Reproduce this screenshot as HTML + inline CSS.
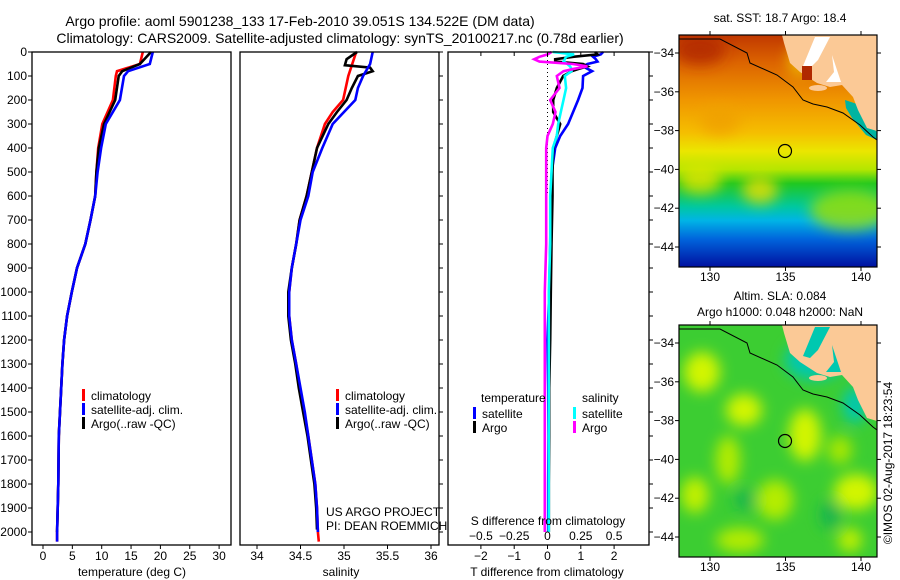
<!DOCTYPE html>
<html><head><meta charset="utf-8"><style>
body{margin:0;background:#fff;}
svg{display:block;font-family:"Liberation Sans",sans-serif;}
text{fill:#000;}
</style></head><body>
<svg id="fig" width="900" height="580" viewBox="0 0 900 580" xmlns="http://www.w3.org/2000/svg">
<defs>
<linearGradient id="sstg" x1="0" y1="0" x2="0" y2="1">
<stop offset="0" stop-color="#c03800"/><stop offset="0.12" stop-color="#dc6400"/>
<stop offset="0.28" stop-color="#f09600"/><stop offset="0.42" stop-color="#f5be00"/>
<stop offset="0.5" stop-color="#ebe600"/><stop offset="0.58" stop-color="#b4e600"/>
<stop offset="0.64" stop-color="#20c820"/><stop offset="0.74" stop-color="#00c8a0"/>
<stop offset="0.8" stop-color="#00b4e6"/><stop offset="0.88" stop-color="#0064dc"/>
<stop offset="1" stop-color="#0010a0"/></linearGradient>
<filter id="blur"><feGaussianBlur stdDeviation="7"/></filter>
<clipPath id="c1"><rect x="679" y="35" width="198" height="232"/></clipPath>
<clipPath id="c2"><rect x="679" y="325" width="198" height="232"/></clipPath>
</defs>
<g font-size="14" text-anchor="middle">
<text x="300" y="26">Argo profile: aoml 5901238_133 17-Feb-2010 39.051S 134.522E (DM data)</text>
<text x="340" y="43">Climatology: CARS2009. Satellite-adjusted climatology: synTS_20100217.nc (0.78d earlier)</text>
</g>
<g id="p1"></g>
<g id="p2"></g>
<g id="p3"></g>

<g>
<text x="780" y="22" font-size="12" text-anchor="middle">sat. SST: 18.7 Argo: 18.4</text>
<g clip-path="url(#c1)">
<rect x="679" y="35" width="198" height="232" fill="url(#sstg)"/>
<g filter="url(#blur)" opacity="0.8">
<ellipse cx="700" cy="180" rx="22" ry="14" fill="#e6e600"/>
<ellipse cx="760" cy="190" rx="18" ry="14" fill="#f0e000"/>
<ellipse cx="850" cy="210" rx="40" ry="20" fill="#a0e000"/>
<ellipse cx="720" cy="120" rx="20" ry="15" fill="#f0a000"/>
<ellipse cx="700" cy="50" rx="25" ry="15" fill="#b02800"/>
<ellipse cx="800" cy="60" rx="12" ry="16" fill="#f0c800"/>
</g>
<polygon fill="#00b4a0" points="845,100 860,105 870,125 877,132 877,140 866,135 852,118 846,108"/>
<path fill="#fbc996" d="M782,35 L784,43 L790,63 L800,72 L817,83 L830,87 L842,85 L853,97 L858,110 L867,128 L877,131 L877,35 Z"/>
<path fill="#fff" d="M815,37 L830,37 L818,60 L810,68 L803,66 Z M832,55 L841,82 L826,82 L834,72 Z"/>
<ellipse cx="818" cy="88" rx="9" ry="3" fill="#fbc996"/>
<rect x="802" y="66" width="10" height="14" fill="#b02800"/>
<polyline fill="none" stroke="#000" stroke-width="1" points="679,39 720,39 747,53 750,63 777,75 793,87 803,100 813,104 827,107 843,113 860,125 873,137 877,140"/>
</g>
<rect x="679" y="35" width="198" height="232" fill="none" stroke="#000" stroke-width="1.2"/>
<circle cx="785" cy="151" r="6.5" fill="none" stroke="#000" stroke-width="1.2"/>
</g>

<g>
<text x="780" y="300" font-size="12" text-anchor="middle">Altim. SLA: 0.084</text>
<text x="780" y="316" font-size="12" text-anchor="middle">Argo h1000: 0.048 h2000: NaN</text>
<g clip-path="url(#c2)">
<rect x="679" y="325" width="198" height="232" fill="#3ccd32"/>
<g filter="url(#blur)">
<ellipse cx="702" cy="372" rx="18" ry="20" fill="#d2f500"/>
<ellipse cx="744" cy="410" rx="18" ry="16" fill="#d2f500"/>
<ellipse cx="805" cy="435" rx="16" ry="26" fill="#d2f500"/>
<ellipse cx="856" cy="492" rx="22" ry="18" fill="#d2f500"/>
<ellipse cx="695" cy="495" rx="14" ry="18" fill="#c0f000"/>
<ellipse cx="728" cy="460" rx="12" ry="24" fill="#b4ec00"/>
<ellipse cx="775" cy="500" rx="18" ry="20" fill="#b4ec00"/>
<ellipse cx="850" cy="540" rx="12" ry="12" fill="#c0f000"/>
<ellipse cx="740" cy="540" rx="24" ry="12" fill="#b4ec00"/>
<ellipse cx="840" cy="450" rx="12" ry="14" fill="#a8e800"/>
<ellipse cx="745" cy="500" rx="10" ry="10" fill="#14b450"/>
<ellipse cx="830" cy="515" rx="10" ry="14" fill="#14b450"/>
<ellipse cx="815" cy="360" rx="30" ry="20" fill="#00c8b0"/>
<ellipse cx="855" cy="405" rx="12" ry="18" fill="#00c8b0"/>
</g>
<path fill="#fbc996" d="M782,325 L784,333 L790,353 L800,362 L817,373 L830,377 L842,375 L853,387 L858,400 L867,418 L877,421 L877,325 Z"/>
<path fill="#00c8b0" d="M815,327 L830,327 L818,350 L810,358 L803,356 Z M832,345 L841,372 L826,372 L834,362 Z"/>
<ellipse cx="818" cy="378" rx="9" ry="3" fill="#fbc996"/>
<polyline fill="none" stroke="#000" stroke-width="1" points="679,329 720,329 747,343 750,353 777,365 793,377 803,390 813,394 827,397 843,403 860,415 873,427 877,430"/>
</g>
<rect x="679" y="325" width="198" height="232" fill="none" stroke="#000" stroke-width="1.2"/>
<circle cx="785" cy="441" r="6.5" fill="none" stroke="#000" stroke-width="1.2"/>
<text transform="translate(892,463) rotate(-90)" font-size="12" text-anchor="middle">©IMOS 02-Aug-2017 18:23:54</text>
</g>
<g id="mapaxes"></g>
</svg>
<script>
// ---- data ----
const depthT = [0,50,80,100,200,300,400,500,600,700,800,900,1000,1100,1200,1300,1400,1600,1800,2000,2040];
const tempClim = [17.0,16.5,12.6,12.4,11.9,10.1,9.4,9.1,8.9,8.1,7.2,5.8,4.9,4.1,3.6,3.3,3.1,2.7,2.6,2.4,2.4];
const tempSat  = [18.7,18.2,14.5,13.8,13.1,10.7,9.9,9.3,8.9,8.1,7.2,5.8,4.9,4.1,3.6,3.3,3.1,2.7,2.6,2.4,2.4];
const tempArgo = [18.4,16.5,13.5,12.9,12.3,10.4,9.5,9.1,8.9,8.1,7.2,5.8,4.9,4.1,3.6,3.3,3.1,2.7,2.6,2.4,2.4];
const depthSc = [0,100,200,250,300,400,500,600,700,800,900,1000,1100,1200,1300,1400,1500,1600,1700,1800,1900,2000,2040];
const salClim = [35.14,35.05,34.99,34.87,34.78,34.69,34.63,34.57,34.49,34.45,34.40,34.37,34.37,34.40,34.45,34.49,34.54,34.59,34.63,34.67,34.69,34.70,34.71];
const depthSs = [0,50,100,150,200,300,400,500,600,700,800,900,1000,1100,1200,1300,1400,1500,1600,1700,1800,1900,2000];
const salSat  = [35.33,35.30,35.22,35.16,35.13,34.87,34.75,34.64,34.59,34.50,34.45,34.40,34.37,34.37,34.40,34.45,34.50,34.55,34.59,34.63,34.67,34.69,34.70];
const depthSa = [0,30,55,65,80,100,150,200,250,300,400,500,600,700,800,900,1000,1100,1200,1300,1400,1500,1600,1700,1800,1900,1990];
const salArgo = [35.15,35.03,35.01,35.30,35.33,35.16,35.09,35.03,34.92,34.82,34.69,34.63,34.57,34.49,34.45,34.40,34.36,34.36,34.39,34.44,34.48,34.53,34.58,34.62,34.66,34.68,34.69];
const depthD = [0,10,20,30,40,50,60,70,80,100,150,200,250,300,350,400,500,600,800,1000,1200,1400,1600,1800,2000];
const dTsat  = [1.67,1.6,1.37,1.45,1.5,1.2,1.07,1.2,1.34,1.07,1.05,0.92,0.77,0.62,0.38,0.23,0.13,0.1,0.08,0.05,0.0,0.02,0.03,0.02,0.02];
const dTargo = [1.43,1.5,0.77,0.23,0.23,1.07,1.2,0.95,0.73,0.47,0.28,0.17,0.17,0.38,0.28,0.17,0.15,0.15,0.12,0.1,0.08,0.05,0.05,0.04,0.04];
const dSsat  = [0.04,0.2,0.14,0.13,0.12,0.15,0.17,0.18,0.18,0.13,0.14,0.12,0.1,0.08,0.07,0.04,0.03,0.02,0.02,0.01,0.01,0.01,0.01,0.01,0.01];
const dSargo = [0.03,0.0,-0.06,-0.1,-0.06,0.19,0.3,0.2,0.12,0.07,0.09,0.02,0.06,0.04,0.0,-0.01,-0.01,-0.01,-0.01,-0.02,-0.02,-0.02,-0.02,-0.02,-0.02];
const depthTicks = [0,100,200,300,400,500,600,700,800,900,1000,1100,1200,1300,1400,1500,1600,1700,1800,1900,2000];
const tTicks = [0,5,10,15,20,25,30];
const sTicks = [34,34.5,35,35.5,36];
const sTickLabels = ["34","34.5","35","35.5","36"];
const dTTicks = [-2,-1,0,1,2];
const dSTicks = [-0.5,-0.25,0,0.25,0.5];
const dSTickLabels = ["\u22120.5","\u22120.25","0","0.25","0.5"];
const lonTicks = [130,135,140];
const latTicks = [-34,-36,-38,-40,-42,-44];

const NS="http://www.w3.org/2000/svg";
function mk(parent,tag,attrs,txt){const e=document.createElementNS(NS,tag);for(const k in attrs)e.setAttribute(k,attrs[k]);if(txt!==undefined)e.textContent=txt;parent.appendChild(e);return e;}
const yD = d => 52 + 0.24*d;
const xT = t => 43 + 5.87*t;
const xS = s => 257 + 87*(s-34);
const xdT = v => 547.5 + 33.3*v;
const xdS = v => 547.5 + 133.2*v;
const TOP=52, BOT=545;

function frame(g,x0,x1){mk(g,'rect',{x:x0,y:TOP,width:x1-x0,height:BOT-TOP,fill:'none',stroke:'#000','stroke-width':1.3});}
function line(g,xs,ds,fx,color,name){
  const pts=xs.map((v,i)=>fx(v).toFixed(1)+','+yD(ds[i]).toFixed(1)).join(' ');
  const p=mk(g,'polyline',{points:pts,fill:'none',stroke:color,'stroke-width':2.6,'stroke-linejoin':'miter'});
  
  
}
function depthAxis(g,x,left,labels){
  depthTicks.forEach(d=>{
    mk(g,'line',{x1:x,x2:left?x-4:x+4,y1:yD(d),y2:yD(d),stroke:'#000'});
    if(labels){const t=mk(g,'text',{x:x-5,y:yD(d)+4,'font-size':12,'text-anchor':'end'},String(d));
      }
  });
}
function xAxis(g,ticks,labels,fx,y,title,cx){
  ticks.forEach((v,i)=>{mk(g,'line',{x1:fx(v),x2:fx(v),y1:BOT,y2:BOT+4,stroke:'#000'});
    const t=mk(g,'text',{x:fx(v),y:y,'font-size':12,'text-anchor':'middle'},labels[i]);
    });
  const tt=mk(g,'text',{x:cx,y:576,'font-size':12,'text-anchor':'middle'},title);
  
}
function legend(g,x,y,items){
  items.forEach((it,i)=>{
    mk(g,'rect',{x:x,y:y+i*14-9,width:3,height:12,fill:it[0]});
    const t=mk(g,'text',{x:x+9,y:y+i*14+2,'font-size':12},it[1]);
    
  });
}
// panel 1
const p1=document.getElementById('p1');
line(p1,tempClim,depthT,xT,'#f00','temp-climatology-line');
line(p1,tempArgo,depthT.slice(0,20),xT,'#000','temp-argo-line');
line(p1,tempSat,depthT,xT,'#00f','temp-satellite-line');
frame(p1,32,231);
depthAxis(p1,32,true,true);
xAxis(p1,tTicks,tTicks.map(String),xT,560,'temperature (deg C)',132);
legend(p1,82,398,[['#f00','climatology'],['#00f','satellite-adj. clim.'],['#000','Argo(..raw -QC)']]);
// panel 2
const p2=document.getElementById('p2');
line(p2,salClim,depthSc,xS,'#f00','sal-climatology-line');
line(p2,salArgo,depthSa,xS,'#000','sal-argo-line');
line(p2,salSat,depthSs,xS,'#00f','sal-satellite-line');
frame(p2,240,439);
depthAxis(p2,439,false,false);
xAxis(p2,sTicks,sTickLabels,xS,560,'salinity',341);
legend(p2,336,398,[['#f00','climatology'],['#00f','satellite-adj. clim.'],['#000','Argo(..raw -QC)']]);
mk(p2,'text',{x:326,y:516,'font-size':12},'US ARGO PROJECT');
mk(p2,'text',{x:326,y:530,'font-size':12},'PI: DEAN ROEMMICH');
// panel 3
const p3=document.getElementById('p3');
mk(p3,'line',{x1:xdT(0),x2:xdT(0),y1:TOP,y2:yD(600),stroke:'#000','stroke-dasharray':'1,3'});
line(p3,dTsat,depthD,xdT,'#00f','tdiff-satellite-line');
line(p3,dTargo,depthD,xdT,'#000','tdiff-argo-line');
line(p3,dSsat,depthD,xdS,'#0ff','sdiff-satellite-line');
line(p3,dSargo,depthD,xdS,'#f0f','sdiff-argo-line');
frame(p3,448,649);
depthAxis(p3,649,false,false);
xAxis(p3,dTTicks,dTTicks.map(v=>v<0?'\u2212'+(-v):String(v)),xdT,560,'T difference from climatology',547);
dSTicks.forEach((v,i)=>{mk(p3,'line',{x1:xdS(v),x2:xdS(v),y1:TOP,y2:TOP+4,stroke:'#000'});
  const t=mk(p3,'text',{x:xdS(v),y:540,'font-size':12,'text-anchor':'middle'},dSTickLabels[i]);
  });
mk(p3,'text',{x:548,y:525,'font-size':12,'text-anchor':'middle'},'S difference from climatology');
mk(p3,'text',{x:481,y:402,'font-size':12},'temperature');
mk(p3,'text',{x:582,y:402,'font-size':12},'salinity');
legend(p3,473,416,[['#00f','satellite'],['#000','Argo']]);
legend(p3,573,416,[['#0ff','satellite'],['#f0f','Argo']]);
// map axes
const ma=document.getElementById('mapaxes');
const xL = lon => 710 + 15.1*(lon-130);
[[35,267,281],[325,557,571]].forEach((m,mi)=>{
  const off = mi*290;
  lonTicks.forEach(l=>{mk(ma,'line',{x1:xL(l),x2:xL(l),y1:m[0],y2:m[0]-4,stroke:'#000'});
    mk(ma,'line',{x1:xL(l),x2:xL(l),y1:m[1],y2:m[1]+4,stroke:'#000'});
    mk(ma,'text',{x:xL(l),y:m[2],'font-size':12,'text-anchor':'middle'},String(l));});
  latTicks.forEach(la=>{const y=53+off+19.4*(-la-34);
    mk(ma,'line',{x1:679,x2:675,y1:y,y2:y,stroke:'#000'});
    mk(ma,'line',{x1:877,x2:881,y1:y,y2:y,stroke:'#000'});
    mk(ma,'text',{x:674,y:y+4,'font-size':12,'text-anchor':'end'},'\u2212'+(-la));});
});
</script>
</body></html>
